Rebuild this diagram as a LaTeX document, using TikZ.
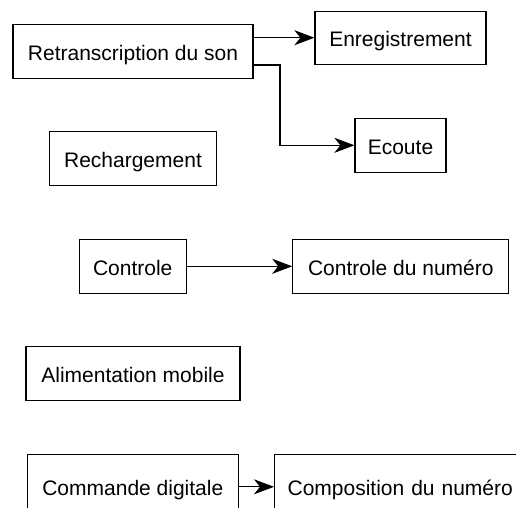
\documentclass[tikz,border=0pt]{standalone}
\usepackage{fontspec}
\setmainfont{Liberation Sans}
\usetikzlibrary{arrows.meta}
\begin{document}
\begin{tikzpicture}[x=1pt,y=-1pt,
  box/.style={draw=black,line width=1.2pt,inner sep=0pt,font=\fontsize{21}{24}\selectfont,text height=17.5pt,text depth=0pt,minimum height=54pt},
  arr/.style={line width=1.2pt,-{Stealth[length=20pt,width=15pt,inset=6pt]}}]
\useasboundingbox (0,0) rectangle (516,507);
\node[box,minimum width=240pt] (ret) at (133,51.3) {Retranscription du son};
\node[box,minimum width=171pt,minimum height=53pt] (enr) at (400.5,37.7) {Enregistrement};
\node[box,minimum width=91pt] (eco) at (400.5,145.3) {Ecoute};
\node[box,minimum width=167pt] (rech) at (133,158.7) {Rechargement};
\node[box,minimum width=107pt] (ctl) at (132.7,266.3) {Controle};
\node[box,minimum width=216pt] (ctln) at (400.8,266.3) {Controle du numéro};
\node[box,minimum width=214pt] (ali) at (133,373.8) {Alimentation mobile};
\node[box,minimum width=211pt,minimum height=65pt] (cmd) at (132.8,486.8) {Commande digitale};
\node[box,minimum height=65pt,text width=250pt,align=left,inner xsep=13pt,anchor=west] (comp) at (274,486.8) {Composition du numéro};
\draw[arr] (ret.east |- enr.west) -- (enr.west);
\draw[arr] ([yshift=-13.7pt]ret.east) -- ++(26.3,0) |- (eco.west);
\draw[arr] (ctl.east) -- (ctln.west);
\draw[arr] (cmd.east) -- (comp.west);
\end{tikzpicture}
\end{document}
